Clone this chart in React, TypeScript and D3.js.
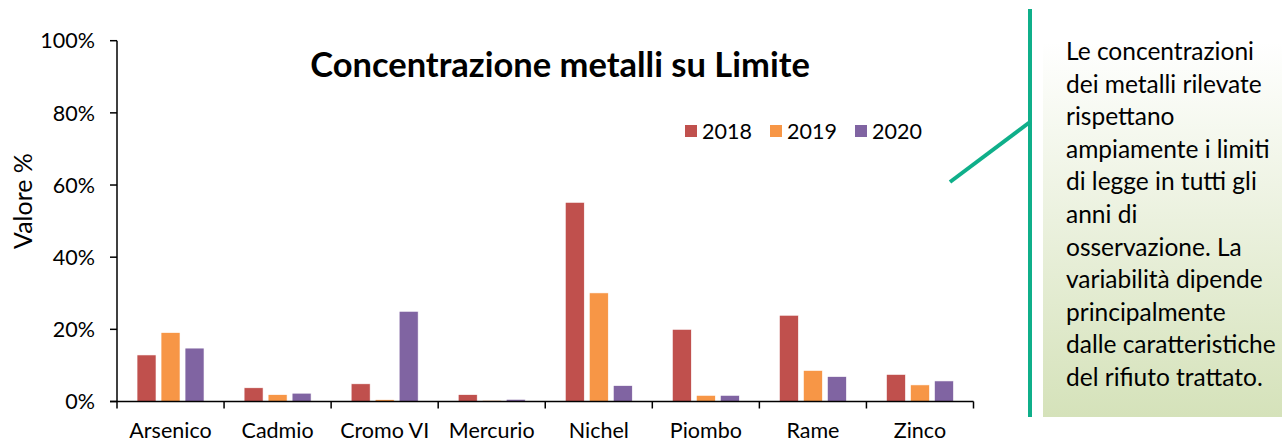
import React from "react";
import * as d3 from "d3";

const categories = ["Arsenico", "Cadmio", "Cromo VI", "Mercurio", "Nichel", "Piombo", "Rame", "Zinco"];
const seriesNames = ["2018", "2019", "2020"];
const values2018 = [12.9, 3.8, 4.9, 1.9, 55.2, 20.0, 23.9, 7.5];
const values2019 = [19.1, 1.9, 0.5, 0.3, 30.1, 1.7, 8.6, 4.6];
const values2020 = [14.8, 2.3, 25.0, 0.6, 4.4, 1.7, 6.9, 5.7];
const yTicks = [0, 20, 40, 60, 80, 100];
const colors = ["#C0504D", "#F79646", "#8064A2"];
const noteLines = [
  "Le concentrazioni",
  "dei metalli rilevate",
  "rispettano",
  "ampiamente i limiti",
  "di legge in tutti gli",
  "anni di",
  "osservazione. La",
  "variabilità dipende",
  "principalmente",
  "dalle caratteristiche",
  "del rifiuto trattato.",
];

const FONT = "Lato, 'Noto Sans', sans-serif";

export default function App() {
  const W = 1282, H = 443;
  const x0 = 117, x1 = 973.5, y0 = 401.5, y1 = 40.7;
  const x = d3.scaleBand<string>().domain(categories).range([x0, x1]).padding(0);
  const inner = d3.scaleBand<string>().domain(seriesNames).range([0, x.bandwidth()]).paddingInner(0.21).paddingOuter(0.835);
  const y = d3.scaleLinear().domain([0, 100]).range([y0, y1]);
  const series = [values2018, values2019, values2020];
  const fs = 21.5;

  return (
    <div style={{ position: "absolute", left: 0, top: 0 }}>
      <svg width={W} height={H} style={{ display: "block" }} fontFamily={FONT}>
        <defs>
          <linearGradient id="noteGrad" x1="0" y1="0" x2="0" y2="1">
            <stop offset="0" stopColor="#FFFFFF" />
            <stop offset="1" stopColor="#D5E2BA" />
          </linearGradient>
        </defs>
        <rect width={W} height={H} fill="#fff" />
        {/* bars */}
        {categories.map((c, i) => (
          <g key={c}>
            {series.map((vals, s) => (
              <rect
                key={s}
                x={(x(c) as number) + (inner(seriesNames[s]) as number)}
                y={y(vals[i])}
                width={inner.bandwidth()}
                height={y0 - y(vals[i])}
                fill={colors[s]}
                stroke="#fff"
                strokeWidth={0.6}
              />
            ))}
          </g>
        ))}
        {/* y axis */}
        <line x1={x0} x2={x0} y1={y1} y2={y0} stroke="#000" strokeWidth={1.5} />
        {yTicks.map((t) => (
          <g key={t}>
            <line x1={x0 - 7} x2={x0} y1={y(t)} y2={y(t)} stroke="#000" strokeWidth={1.5} />
            <text x={95} y={y(t)} dy="0.36em" textAnchor="end" fontSize={fs} fill="#000">
              {t}%
            </text>
          </g>
        ))}
        {/* x axis */}
        <line x1={x0 - 7} x2={x1} y1={y0} y2={y0} stroke="#000" strokeWidth={1.5} />
        {categories.map((c) => (
          <line key={c} x1={x(c) as number} x2={x(c) as number} y1={y0} y2={y0 + 7} stroke="#000" strokeWidth={1.5} />
        ))}
        <line x1={x1} x2={x1} y1={y0} y2={y0 + 7} stroke="#000" strokeWidth={1.5} />
        {categories.map((c) => (
          <text key={c} x={(x(c) as number) + x.bandwidth() / 2} y={437.5} textAnchor="middle" fontSize={fs} fill="#000">
            {c}
          </text>
        ))}
        {/* y label */}
        <text transform="translate(32,201) rotate(-90)" textAnchor="middle" fontSize={25} fill="#000">
          Valore %
        </text>
        {/* title */}
        <text x={560} y={77} textAnchor="middle" fontSize={34.5} fontWeight="bold" fill="#000">
          Concentrazione metalli su Limite
        </text>
        {/* legend */}
        {seriesNames.map((s, i) => (
          <g key={s} transform={`translate(685,131)`}>
            <rect x={i * 85} y={-6} width={12} height={12} fill={colors[i]} />
            <text x={i * 85 + 17} y={0} dy="0.36em" fontSize={fs} fill="#000">
              {s}
            </text>
          </g>
        ))}
        {/* annotation */}
        <rect x={1043} y={42} width={W - 1043} height={375} fill="url(#noteGrad)" />
        <line x1={1030} x2={1030} y1={9} y2={417} stroke="#0FAF8A" strokeWidth={4} />
        <line x1={950} y1={182} x2={1030} y2={122} stroke="#0FAF8A" strokeWidth={4} />
        {noteLines.map((l, i) => (
          <text key={i} x={1066} y={60 + i * 32.6} fontSize={24.5} fill="#000">
            {l}
          </text>
        ))}
      </svg>
    </div>
  );
}
